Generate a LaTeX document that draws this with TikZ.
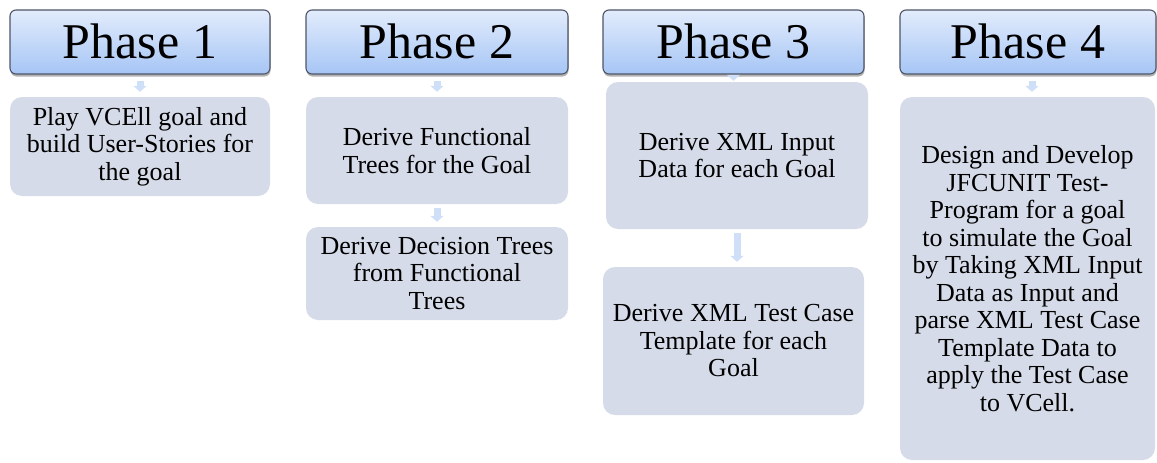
\documentclass[tikz,border=0pt]{standalone}
\usepackage{fontspec}
\setmainfont{Liberation Serif}
\usetikzlibrary{shadows,arrows.meta}
\definecolor{hdrtop}{HTML}{E2ECFC}
\definecolor{hdrbot}{HTML}{A6C5F5}
\definecolor{hdrline}{HTML}{4E5566}
\definecolor{boxfill}{HTML}{D5DBE8}
\definecolor{connfill}{HTML}{CFDFF7}
\tikzset{
  phasehdr/.style={draw=hdrline, line width=1.1pt, rounded corners=6pt,
    top color=hdrtop, bottom color=hdrbot, inner sep=0pt, align=center,
    font=\fontsize{50}{52}\selectfont, minimum height=64pt,
    drop shadow={shadow xshift=0.5pt, shadow yshift=-2.5pt, opacity=0.3, fill=black}},
  stepbox/.style={fill=boxfill, rounded corners=12pt, inner sep=0pt, align=center,
    font=\fontsize{26}{27.5}\selectfont},
  conn/.style={connfill, line width=7pt, -{Triangle[width=13pt,length=6pt]}}
}
\begin{document}
\begin{tikzpicture}[x=1pt,y=-1pt]
\useasboundingbox (0,0) rectangle (1157,463);
% headers
\node[phasehdr, minimum width=260pt] (h1) at (140,42) {\raisebox{1.5pt}{Phase 1}};
\node[phasehdr, minimum width=262pt] (h2) at (437,42) {\raisebox{1.5pt}{Phase 2}};
\node[phasehdr, minimum width=261pt] (h3) at (733.5,42) {\raisebox{1.5pt}{Phase 3}};
\node[phasehdr, minimum width=256pt] (h4) at (1028,42) {\raisebox{1.5pt}{Phase 4}};
% boxes
\node[stepbox, minimum width=260pt, minimum height=99pt] (b1) at (140,146.5)
  {Play VCEll goal and\\build User-Stories for\\the goal};
\node[stepbox, minimum width=262pt, minimum height=107pt] (b2a) at (437,150.5)
  {Derive Functional\\Trees for the Goal};
\node[stepbox, minimum width=262pt, minimum height=93pt] (b2b) at (437,273.5)
  {Derive Decision Trees\\from Functional\\Trees};
\node[stepbox, minimum width=262pt, minimum height=147pt] (b3a) at (737,155.5)
  {Derive XML Input\\Data for each Goal};
\node[stepbox, minimum width=261pt, minimum height=148pt] (b3b) at (733.5,341)
  {Derive XML Test Case\\Template for each\\Goal};
\node[stepbox, minimum width=255pt, minimum height=363pt] (b4) at (1027.5,278.5)
  {Design and Develop\\JFCUNIT Test-\\Program for a goal\\to simulate the Goal\\by Taking XML Input\\Data as Input and\\parse XML Test Case\\Template Data to\\apply the Test Case\\to VCell.};
% connectors
\draw[conn, shorten <=6pt, shorten >=5pt] (h1.south) -- (b1.north);
\draw[conn, shorten <=6pt, shorten >=5pt] (h2.south) -- (b2a.north);
\draw[conn, shorten <=4pt, shorten >=5pt] (b2a.south) -- (b2b.north);
\draw[conn, shorten <=1pt, shorten >=1pt] (h3.south) -- (h3.south |- b3a.north);
\draw[conn, shorten <=4pt, shorten >=5pt] (b3a.south) -- (b3a.south |- b3b.north);
\draw[conn, shorten <=6pt, shorten >=5pt] ([xshift=4pt]h4.south) -- ([xshift=4pt]h4.south |- b4.north);
\end{tikzpicture}
\end{document}
